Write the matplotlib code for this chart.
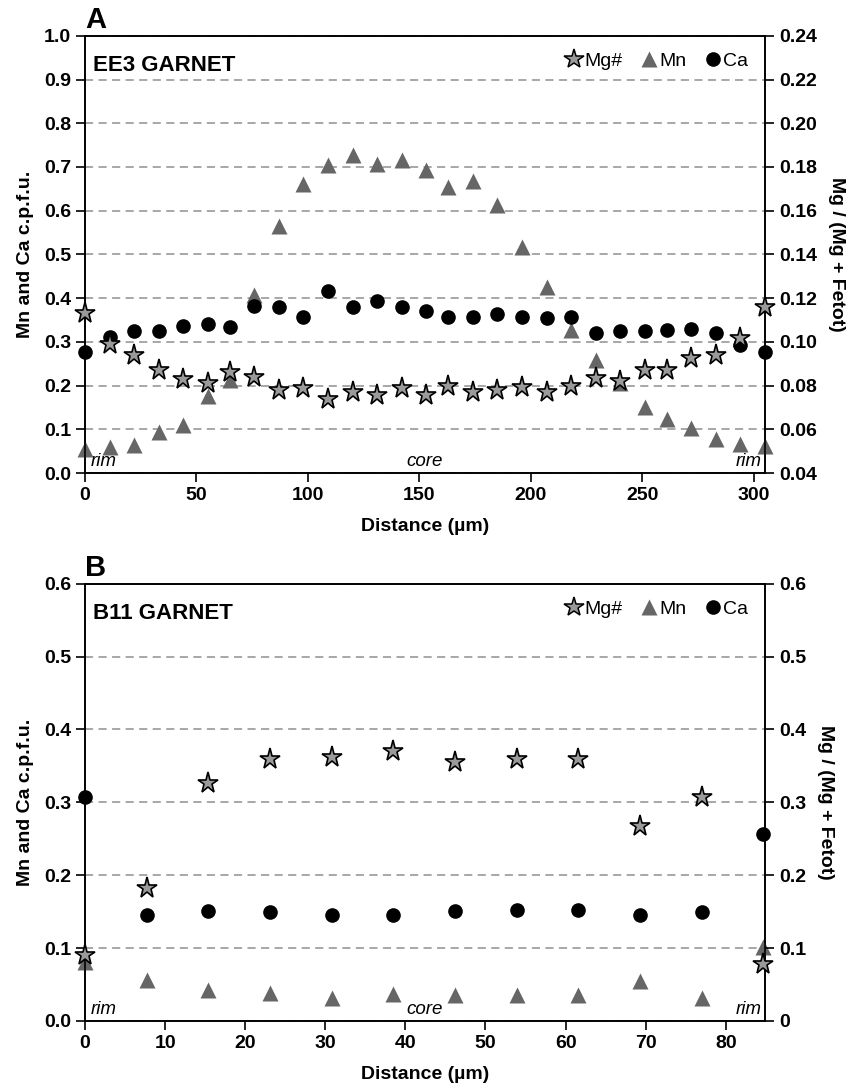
import matplotlib
matplotlib.use("Agg")
import matplotlib.pyplot as plt
from matplotlib.lines import Line2D
from matplotlib.ticker import FixedLocator, FormatStrFormatter

plt.rcParams['font.family'] = ['Liberation Sans', 'DejaVu Sans']

# ---- Panel A: EE3 garnet ----
dist_a = [0, 11, 22, 33, 44, 55, 65, 76, 87, 98, 109, 120, 131, 142, 153,
          163, 174, 185, 196, 207, 218, 229, 240, 251, 261, 272, 283, 294, 305]
mn_a = [0.055, 0.06, 0.065, 0.095, 0.11, 0.177, 0.212, 0.408, 0.564, 0.66,
        0.705, 0.727, 0.707, 0.715, 0.692, 0.655, 0.667, 0.613, 0.516, 0.426,
        0.328, 0.258, 0.205, 0.152, 0.124, 0.102, 0.078, 0.066, 0.063]
ca_a = [0.277, 0.312, 0.324, 0.324, 0.337, 0.34, 0.333, 0.381, 0.379, 0.357,
        0.416, 0.38, 0.393, 0.38, 0.37, 0.357, 0.357, 0.364, 0.357, 0.355,
        0.357, 0.321, 0.326, 0.326, 0.328, 0.33, 0.321, 0.294, 0.277]
mg_a = [0.113, 0.099, 0.094, 0.087, 0.083, 0.081, 0.086, 0.084, 0.078, 0.079,
        0.074, 0.077, 0.0756, 0.079, 0.0756, 0.080, 0.077, 0.078, 0.0795, 0.077,
        0.080, 0.0836, 0.082, 0.087, 0.087, 0.0925, 0.094, 0.102, 0.116]

# ---- Panel B: B11 garnet ----
dist_b = [0, 7.7, 15.4, 23.1, 30.8, 38.5, 46.2, 53.9, 61.6, 69.3, 77.0, 84.7]
mn_b = [0.081, 0.056, 0.042, 0.039, 0.031, 0.037, 0.036, 0.036, 0.036, 0.055, 0.031, 0.102]
ca_b = [0.307, 0.145, 0.151, 0.149, 0.145, 0.146, 0.151, 0.152, 0.152, 0.146, 0.149, 0.256]
mg_b = [0.090, 0.182, 0.327, 0.360, 0.362, 0.370, 0.355, 0.359, 0.360, 0.267, 0.307, 0.078]

STAR_FC = '#9a9a9a'
TRI_C = '#666666'
FS = 14


def draw_panel(ax, dist, mn, ca, mg, xmax, xticks, yl, yticks, yr, rticks, rfmt,
               title, letter):
    ax.set_xlim(0, xmax)
    ax.set_ylim(*yl)
    ax.yaxis.set_major_locator(FixedLocator(yticks))
    ax.xaxis.set_major_locator(FixedLocator(xticks))
    ax.yaxis.set_major_formatter(FormatStrFormatter('%.1f'))
    ax.yaxis.grid(True, color='#a0a0a0', linestyle=(0, (4.5, 3)), linewidth=1.3)
    ax.set_axisbelow(True)

    ax.plot(dist, mn, linestyle='none', marker='^', markersize=11,
            color=TRI_C, markeredgecolor='none', zorder=3, clip_on=False)
    ax.plot(dist, ca, linestyle='none', marker='o', markersize=9.5,
            color='black', zorder=4, clip_on=False)

    ax2 = ax.twinx()
    ax2.set_ylim(*yr)
    ax2.yaxis.set_major_locator(FixedLocator(rticks))
    ax2.yaxis.set_major_formatter(FormatStrFormatter(rfmt))
    ax2.plot(dist, mg, linestyle='none', marker='*', markersize=15.5,
             markerfacecolor=STAR_FC, markeredgecolor='black',
             markeredgewidth=1.2, zorder=5, clip_on=False)

    for a in (ax, ax2):
        for s in a.spines.values():
            s.set_linewidth(1.2)
        a.tick_params(direction='out', length=6.5, width=1.2, labelsize=FS)
        for lbl in a.get_xticklabels() + a.get_yticklabels():
            lbl.set_fontweight('bold')

    ax.set_xlabel('Distance (µm)', fontsize=FS, fontweight='bold', labelpad=10)
    ax.set_ylabel('Mn and Ca c.p.f.u.', fontsize=FS, fontweight='bold', labelpad=7)
    ax2.set_ylabel('Mg / (Mg + Fetot)', fontsize=FS, fontweight='bold',
                   rotation=270, labelpad=20)

    ax.text(0.012, 0.957, title, transform=ax.transAxes, fontsize=16,
            fontweight='bold', va='top', ha='left')
    ax.text(0.0, 1.003, letter, transform=ax.transAxes, fontsize=21,
            fontweight='bold', va='bottom', ha='left')
    ax.text(0.008, 0.006, 'rim', transform=ax.transAxes, fontsize=13.5,
            style='italic', va='bottom', ha='left')
    ax.text(0.5, 0.006, 'core', transform=ax.transAxes, fontsize=13.5,
            style='italic', va='bottom', ha='center')
    ax.text(0.995, 0.006, 'rim', transform=ax.transAxes, fontsize=13.5,
            style='italic', va='bottom', ha='right')

    handles = [
        Line2D([], [], linestyle='none', marker='*', markersize=15,
               markerfacecolor=STAR_FC, markeredgecolor='black', markeredgewidth=1.1),
        Line2D([], [], linestyle='none', marker='^', markersize=11,
               color=TRI_C, markeredgecolor='none'),
        Line2D([], [], linestyle='none', marker='o', markersize=9.5, color='black'),
    ]
    ax2.legend(handles, ['Mg#', 'Mn', 'Ca'], loc='upper right', ncol=3,
               frameon=False, fontsize=14, handlelength=0.9, handletextpad=0.1,
               columnspacing=0.9, borderaxespad=0.45, bbox_to_anchor=(1.0, 1.0))
    return ax2


fig = plt.figure(figsize=(8.5, 10.85), dpi=100)
ax_a = fig.add_axes([0.1, 0.564, 0.8, 0.403])
ax_b = fig.add_axes([0.1, 0.059, 0.8, 0.403])

draw_panel(ax_a, dist_a, mn_a, ca_a, mg_a, 305, [0, 50, 100, 150, 200, 250, 300],
           (0, 1.0), [0.0, 0.1, 0.2, 0.3, 0.4, 0.5, 0.6, 0.7, 0.8, 0.9, 1.0],
           (0.04, 0.24), [0.04, 0.06, 0.08, 0.10, 0.12, 0.14, 0.16, 0.18, 0.20, 0.22, 0.24],
           '%.2f', 'EE3 GARNET', 'A')

draw_panel(ax_b, dist_b, mn_b, ca_b, mg_b, 84.9, [0, 10, 20, 30, 40, 50, 60, 70, 80],
           (0, 0.6), [0.0, 0.1, 0.2, 0.3, 0.4, 0.5, 0.6],
           (0, 0.6), [0, 0.1, 0.2, 0.3, 0.4, 0.5, 0.6],
           '%g', 'B11 GARNET', 'B')

fig.savefig('out.png', dpi=100)
